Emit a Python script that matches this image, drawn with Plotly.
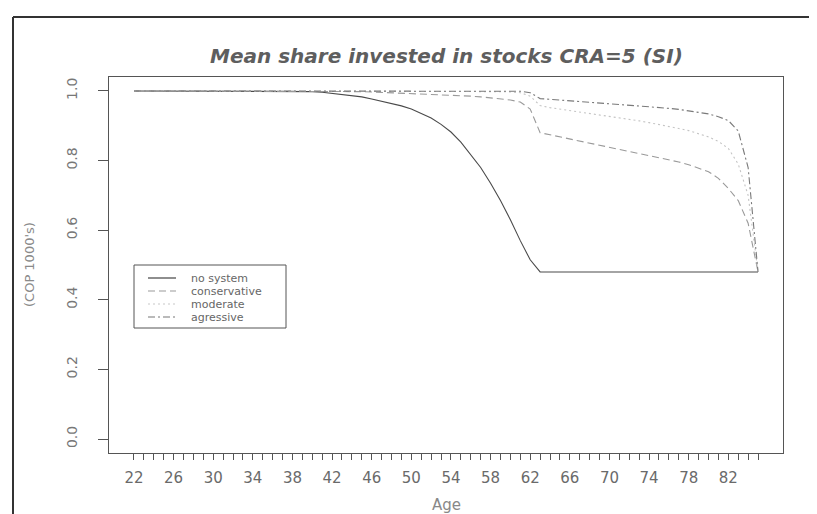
import plotly.graph_objects as go

# ---------------- data ----------------
ages = list(range(22, 86))
tick_labels = [str(a) if (a - 22) % 4 == 0 else "" for a in ages]

no_system = [1.0] * 17 + [
    0.999, 0.998, 0.996, 0.993, 0.990, 0.987, 0.983, 0.977, 0.971, 0.964,
    0.957, 0.948, 0.936, 0.922, 0.904, 0.882, 0.853, 0.818, 0.780, 0.735,
    0.685, 0.630, 0.570, 0.515, 0.480] + [0.48] * 22

conservative = [1.0] * 22 + [
    0.999, 0.998, 0.997, 0.996, 0.995, 0.994, 0.993, 0.992, 0.991, 0.990,
    0.988, 0.986, 0.985, 0.983, 0.980, 0.977, 0.974, 0.968, 0.948, 0.880,
    0.874, 0.868, 0.862, 0.855, 0.849, 0.844, 0.839, 0.833, 0.827, 0.821,
    0.815, 0.809, 0.802, 0.796, 0.788, 0.779, 0.768, 0.749, 0.720, 0.685,
    0.620, 0.480]

moderate = [1.0] * 36 + [
    0.999, 0.998, 0.997, 0.995, 0.985, 0.958, 0.952, 0.948, 0.944, 0.940,
    0.936, 0.932, 0.928, 0.924, 0.919, 0.914, 0.909, 0.904, 0.898, 0.892,
    0.886, 0.878, 0.868, 0.855, 0.835, 0.790, 0.700, 0.480]

agressive = [1.0] * 39 + [
    0.999, 0.995, 0.978, 0.976, 0.974, 0.972, 0.970, 0.968, 0.966, 0.964,
    0.962, 0.960, 0.957, 0.955, 0.952, 0.950, 0.947, 0.943, 0.939, 0.934,
    0.926, 0.915, 0.885, 0.780, 0.480]

series_names = ["no system", "conservative", "moderate", "agressive"]
series_values = [no_system, conservative, moderate, agressive]

# ---------------- styles ----------------
W, H = 817, 514
L, R, T, B = 101, 775, 69, 445
pw, ph = R - L, B - T

def px_x(px):
    return (px - L) / pw

def px_y(py):
    return (B - py) / ph

colors = ["#4a4a4a", "#9a9a9a", "#c4c4c4", "#7a7a7a"]
dashes = ["solid", "7px,4px", "2px,3px", "7px,3px,2px,3px"]
FONT = "DejaVu Sans"

fig = go.Figure()
for name, vals, c, d in zip(series_names, series_values, colors, dashes):
    fig.add_trace(go.Scatter(x=ages, y=vals, mode="lines", name=name,
                             line=dict(color=c, dash=d, width=1.1),
                             showlegend=False, hoverinfo="x+y+name"))

fig.update_layout(
    width=W, height=H,
    margin=dict(l=L, r=W - R, t=T, b=H - B),
    paper_bgcolor="white", plot_bgcolor="white",
    showlegend=False,
    xaxis=dict(range=[19.48, 87.52], tickmode="array", tickvals=ages,
               ticktext=tick_labels, ticks="outside", ticklen=6, tickwidth=1,
               tickcolor="#555", showgrid=False, zeroline=False,
               showline=True, linecolor="#555", linewidth=1, mirror=True,
               tickfont=dict(family=FONT, size=15, color="#6a6a6a"),
               ticklabelstandoff=5, tickangle=0),
    yaxis=dict(range=[-0.04, 1.04], tickmode="array",
               tickvals=[0, 0.2, 0.4, 0.6, 0.8, 1.0],
               ticktext=["0.0", "0.2", "0.4", "0.6", "0.8", "1.0"],
               ticks="outside", ticklen=10, tickwidth=1, tickcolor="#555",
               showgrid=False, zeroline=False, showline=True,
               linecolor="#555", linewidth=1, mirror=True,
               tickangle=-90, ticklabelstandoff=15,
               tickfont=dict(family=FONT, size=14, color="#777")),
)

# title and axis titles
fig.add_annotation(text="<b><i>Mean share invested in stocks CRA=5 (SI)</i></b>",
                   xref="paper", yref="paper", x=0.5, y=px_y(48),
                   xanchor="center", yanchor="middle", showarrow=False,
                   font=dict(family=FONT, size=20, color="#5e5e5e"))
fig.add_annotation(text="Age", xref="paper", yref="paper", x=0.5, y=px_y(497),
                   xanchor="center", yanchor="middle", showarrow=False,
                   font=dict(family=FONT, size=15, color="#888"))
fig.add_annotation(text="(COP 1000's)", xref="paper", yref="paper",
                   x=px_x(21), y=px_y(257), textangle=-90,
                   xanchor="center", yanchor="middle", showarrow=False,
                   font=dict(family=FONT, size=13, color="#8a8a8a"))

# outer frame (left and top edges of the screenshot)
fig.add_shape(type="line", xref="paper", yref="paper",
              x0=px_x(5), x1=px_x(5), y0=px_y(9), y1=px_y(514),
              line=dict(color="#333", width=2))
fig.add_shape(type="line", xref="paper", yref="paper",
              x0=px_x(5), x1=px_x(817), y0=px_y(9), y1=px_y(9),
              line=dict(color="#333", width=2))

# legend box drawn manually
lx0, lx1, ly0, ly1 = 126, 278, 257, 320
fig.add_shape(type="rect", xref="paper", yref="paper",
              x0=px_x(lx0), x1=px_x(lx1), y0=px_y(ly1), y1=px_y(ly0),
              line=dict(color="#555", width=1), fillcolor="white")
leg_rows = [270, 283, 296, 309]
leg_colors = ["#444", "#999", "#c8c8c8", "#777"]
for name, row, c, d in zip(series_names, leg_rows, leg_colors, dashes):
    fig.add_shape(type="line", xref="paper", yref="paper",
                  x0=px_x(140), x1=px_x(168), y0=px_y(row), y1=px_y(row),
                  line=dict(color=c, dash=d, width=1.2))
    fig.add_annotation(text=name, xref="paper", yref="paper",
                       x=px_x(183), y=px_y(row), xanchor="left",
                       yanchor="middle", showarrow=False,
                       borderpad=0, borderwidth=0,
                       font=dict(family=FONT, size=11, color="#666"))

fig.write_html("out.html")
